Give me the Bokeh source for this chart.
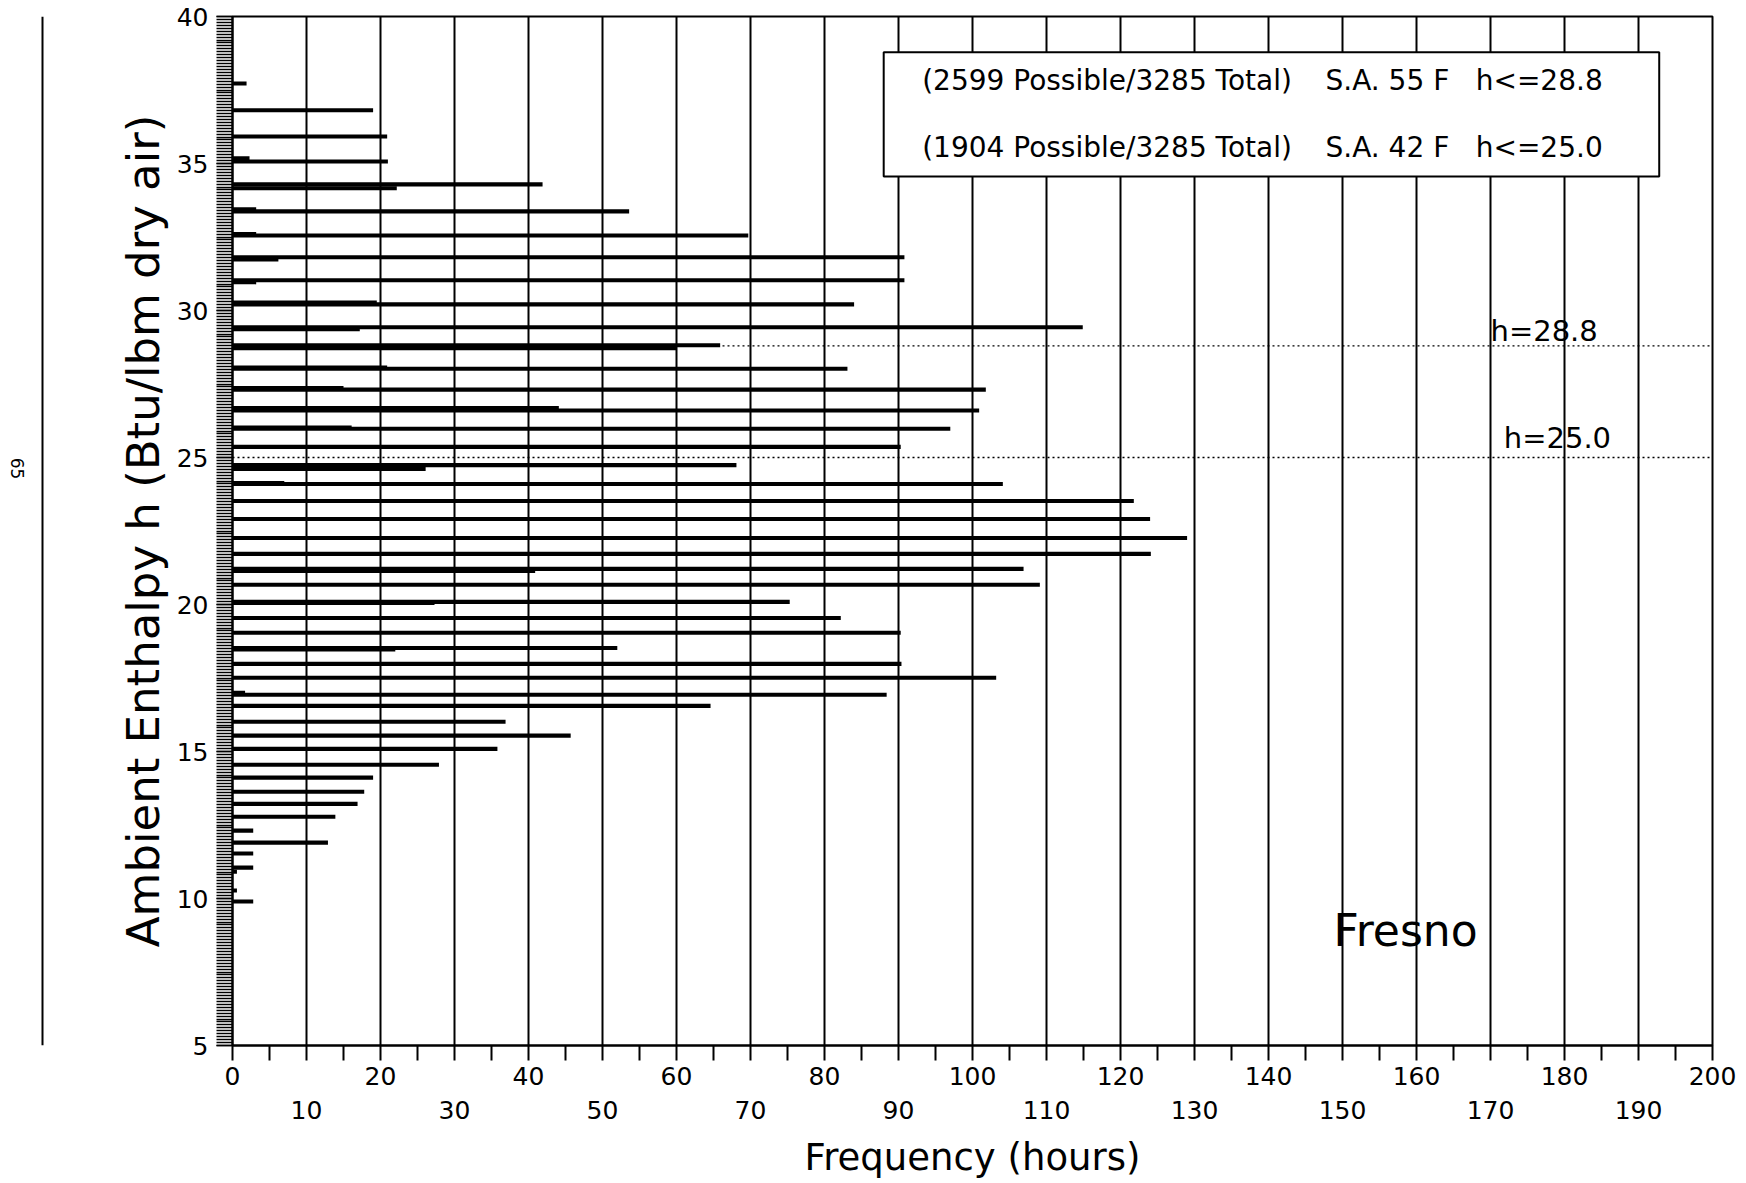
import math
from bokeh.plotting import figure
from bokeh.layouts import row
from bokeh.models import (LinearAxis, FixedTicker, SingleIntervalTicker, Span, Label,
                          BoxAnnotation, Range1d, Grid, ColumnDataSource)
from bokeh.embed import file_html
from bokeh.resources import INLINE

# ---------------- data ----------------
enthalpy = [37.72, 36.81, 35.92, 35.18, 35.07, 34.29, 34.16, 33.44, 33.37, 32.60,
            32.55, 31.81, 31.74, 31.03, 30.96, 30.27, 30.21, 29.43, 29.36, 28.82,
            28.72, 28.06, 28.02, 27.36, 27.31, 26.68, 26.60, 26.02, 25.98, 25.36,
            24.74, 24.61, 24.13, 24.10, 23.52, 22.91, 22.26, 21.72, 21.21, 21.14,
            20.67, 20.09, 20.05, 19.54, 19.04, 18.52, 18.47, 17.98, 17.51, 17.00,
            16.93, 16.55, 16.01, 15.54, 15.09, 14.55, 14.11, 13.63, 13.22, 12.78,
            12.31, 11.90, 11.53, 11.05, 10.91, 10.27, 9.90]
hours = [1.9, 19.0, 20.9, 2.3, 21.0, 41.9, 22.2, 3.2, 53.6, 3.2,
         69.7, 90.8, 6.2, 90.8, 3.2, 19.5, 84.0, 114.9, 17.2, 65.9,
         60.0, 20.9, 83.1, 15.0, 101.8, 44.1, 100.9, 16.1, 97.0, 90.3,
         68.1, 26.1, 7.0, 104.1, 121.8, 124.0, 129.0, 124.1, 106.9, 40.9,
         109.1, 75.3, 27.3, 82.2, 90.3, 52.0, 22.0, 90.4, 103.2, 1.7,
         88.4, 64.6, 36.9, 45.7, 35.8, 27.9, 19.0, 17.8, 16.9, 13.9,
         2.8, 12.9, 2.8, 2.8, 0.6, 0.6, 2.8]

x_ticks_all = list(range(0, 201, 10))
x_minor = list(range(5, 200, 10))
x_row1 = list(range(0, 201, 20))
x_row2 = list(range(10, 200, 20))
limits = [28.8, 25.0]
limit_labels = ["h=28.8", "h=25.0"]
legend_rows = [["(2599 Possible/3285 Total)", "S.A. 55 F", "h<=28.8"],
               ["(1904 Possible/3285 Total)", "S.A. 42 F", "h<=25.0"]]
x_title = "Frequency (hours)"
y_title = "Ambient Enthalpy h (Btu/lbm dry air)"
city = "Fresno"
page_no = "65"

FONT = "DejaVu Sans"
H = 1183
TOP, BOTTOM = 16, 1045   # frame edges in page pixels

# ---------- narrow strip on the left: page number and scan edge ----------
side = figure(width=50, height=H, x_range=Range1d(0, 50), y_range=Range1d(H - BOTTOM, H - TOP),
              output_backend="svg", toolbar_location=None,
              x_axis_location=None, y_axis_location=None,
              min_border_left=0, min_border_right=0, min_border_top=TOP,
              min_border_bottom=H - BOTTOM)
side.outline_line_color = None
for g in side.grid:
    g.visible = False
side.add_layout(Span(location=42, dimension="height", line_color="black", line_width=2))
side.add_layout(Label(x=17, y=H - 468, text=page_no, text_font=FONT, text_font_size="17px",
                      text_color="black", text_baseline="middle", text_align="center",
                      angle=-math.pi / 2))

# ---------- main chart ----------
p = figure(width=1690, height=H, x_range=Range1d(0, 200), y_range=Range1d(5, 40),
           output_backend="svg", toolbar_location=None,
           x_axis_location=None, y_axis_location=None,
           min_border_left=182, min_border_right=28, min_border_top=TOP,
           min_border_bottom=H - BOTTOM)
p.outline_line_color = "black"
p.outline_line_width = 2
p.background_fill_color = "white"
p.border_fill_color = "white"
for g in p.grid:
    g.visible = False

yax = LinearAxis(ticker=SingleIntervalTicker(interval=5, num_minor_ticks=50))
yax.axis_label = y_title
yax.axis_label_text_font = FONT
yax.axis_label_text_font_size = "45px"
yax.axis_label_text_font_style = "normal"
yax.axis_label_text_color = "black"
yax.axis_label_standoff = 4
yax.major_label_text_font = FONT
yax.major_label_text_font_size = "25px"
yax.major_label_text_color = "black"
yax.major_label_standoff = 8
yax.major_tick_out = 16
yax.major_tick_in = 0
yax.minor_tick_out = 16
yax.minor_tick_in = 0
yax.minor_tick_line_width = 1.5
yax.major_tick_line_width = 1.5
yax.axis_line_width = 2
p.add_layout(yax, "left")

xt = FixedTicker(ticks=x_ticks_all, minor_ticks=x_minor)
xax1 = LinearAxis(ticker=xt)
xax1.major_label_overrides = {t: ("" if t not in x_row1 else str(t)) for t in x_ticks_all}
xax1.major_label_text_font = FONT
xax1.major_label_text_font_size = "25px"
xax1.major_label_text_color = "black"
xax1.major_label_standoff = 6
xax1.major_tick_out = 15
xax1.major_tick_in = 0
xax1.minor_tick_out = 15
xax1.minor_tick_in = 0
xax1.major_tick_line_width = 2
xax1.minor_tick_line_width = 2
xax1.axis_line_width = 2
p.add_layout(xax1, "below")

xax2 = LinearAxis(ticker=FixedTicker(ticks=x_row2))
xax2.axis_line_color = None
xax2.major_tick_line_color = None
xax2.minor_tick_line_color = None
xax2.major_tick_out = 0
xax2.major_label_standoff = 13
xax2.major_label_text_font = FONT
xax2.major_label_text_font_size = "25px"
xax2.major_label_text_color = "black"
xax2.axis_label = x_title
xax2.axis_label_text_font = FONT
xax2.axis_label_text_font_size = "37px"
xax2.axis_label_text_font_style = "normal"
xax2.axis_label_text_color = "black"
xax2.axis_label_standoff = 14
p.add_layout(xax2, "below")

p.add_layout(Grid(dimension=0, ticker=xt, grid_line_color="black", grid_line_width=2))

src = ColumnDataSource(dict(h=enthalpy, v=hours))
p.hbar(y="h", right="v", left=0, height=0.14, source=src, fill_color="black", line_color=None)

for lim, txt, lx, ly in zip(limits, limit_labels, [170.0, 171.8], [29.29, 25.66]):
    p.add_layout(Span(location=lim, dimension="width", line_color="black",
                      line_width=1.3, line_dash="2 3"))
    p.add_layout(Label(x=lx, y=ly, text=txt, text_font=FONT, text_font_size="29px",
                       text_color="black", text_baseline="middle", text_align="left"))

p.add_layout(BoxAnnotation(left=88.0, right=192.8, top=38.78, bottom=34.56,
                           fill_color="white", fill_alpha=1.0, line_color="black",
                           line_width=2, line_alpha=1.0))
for rw, yy in zip(legend_rows, [37.82, 35.54]):
    for txt, xx in zip(rw, [93.2, 147.7, 168.0]):
        p.add_layout(Label(x=xx, y=yy, text=txt, text_font=FONT, text_font_size="28px",
                           text_color="black", text_baseline="middle", text_align="left"))

p.add_layout(Label(x=148.8, y=8.91, text=city, text_font=FONT, text_font_size="44px",
                   text_color="black", text_baseline="middle", text_align="left"))

layout = row(side, p)
open("out.html", "w").write(file_html(layout, INLINE))
